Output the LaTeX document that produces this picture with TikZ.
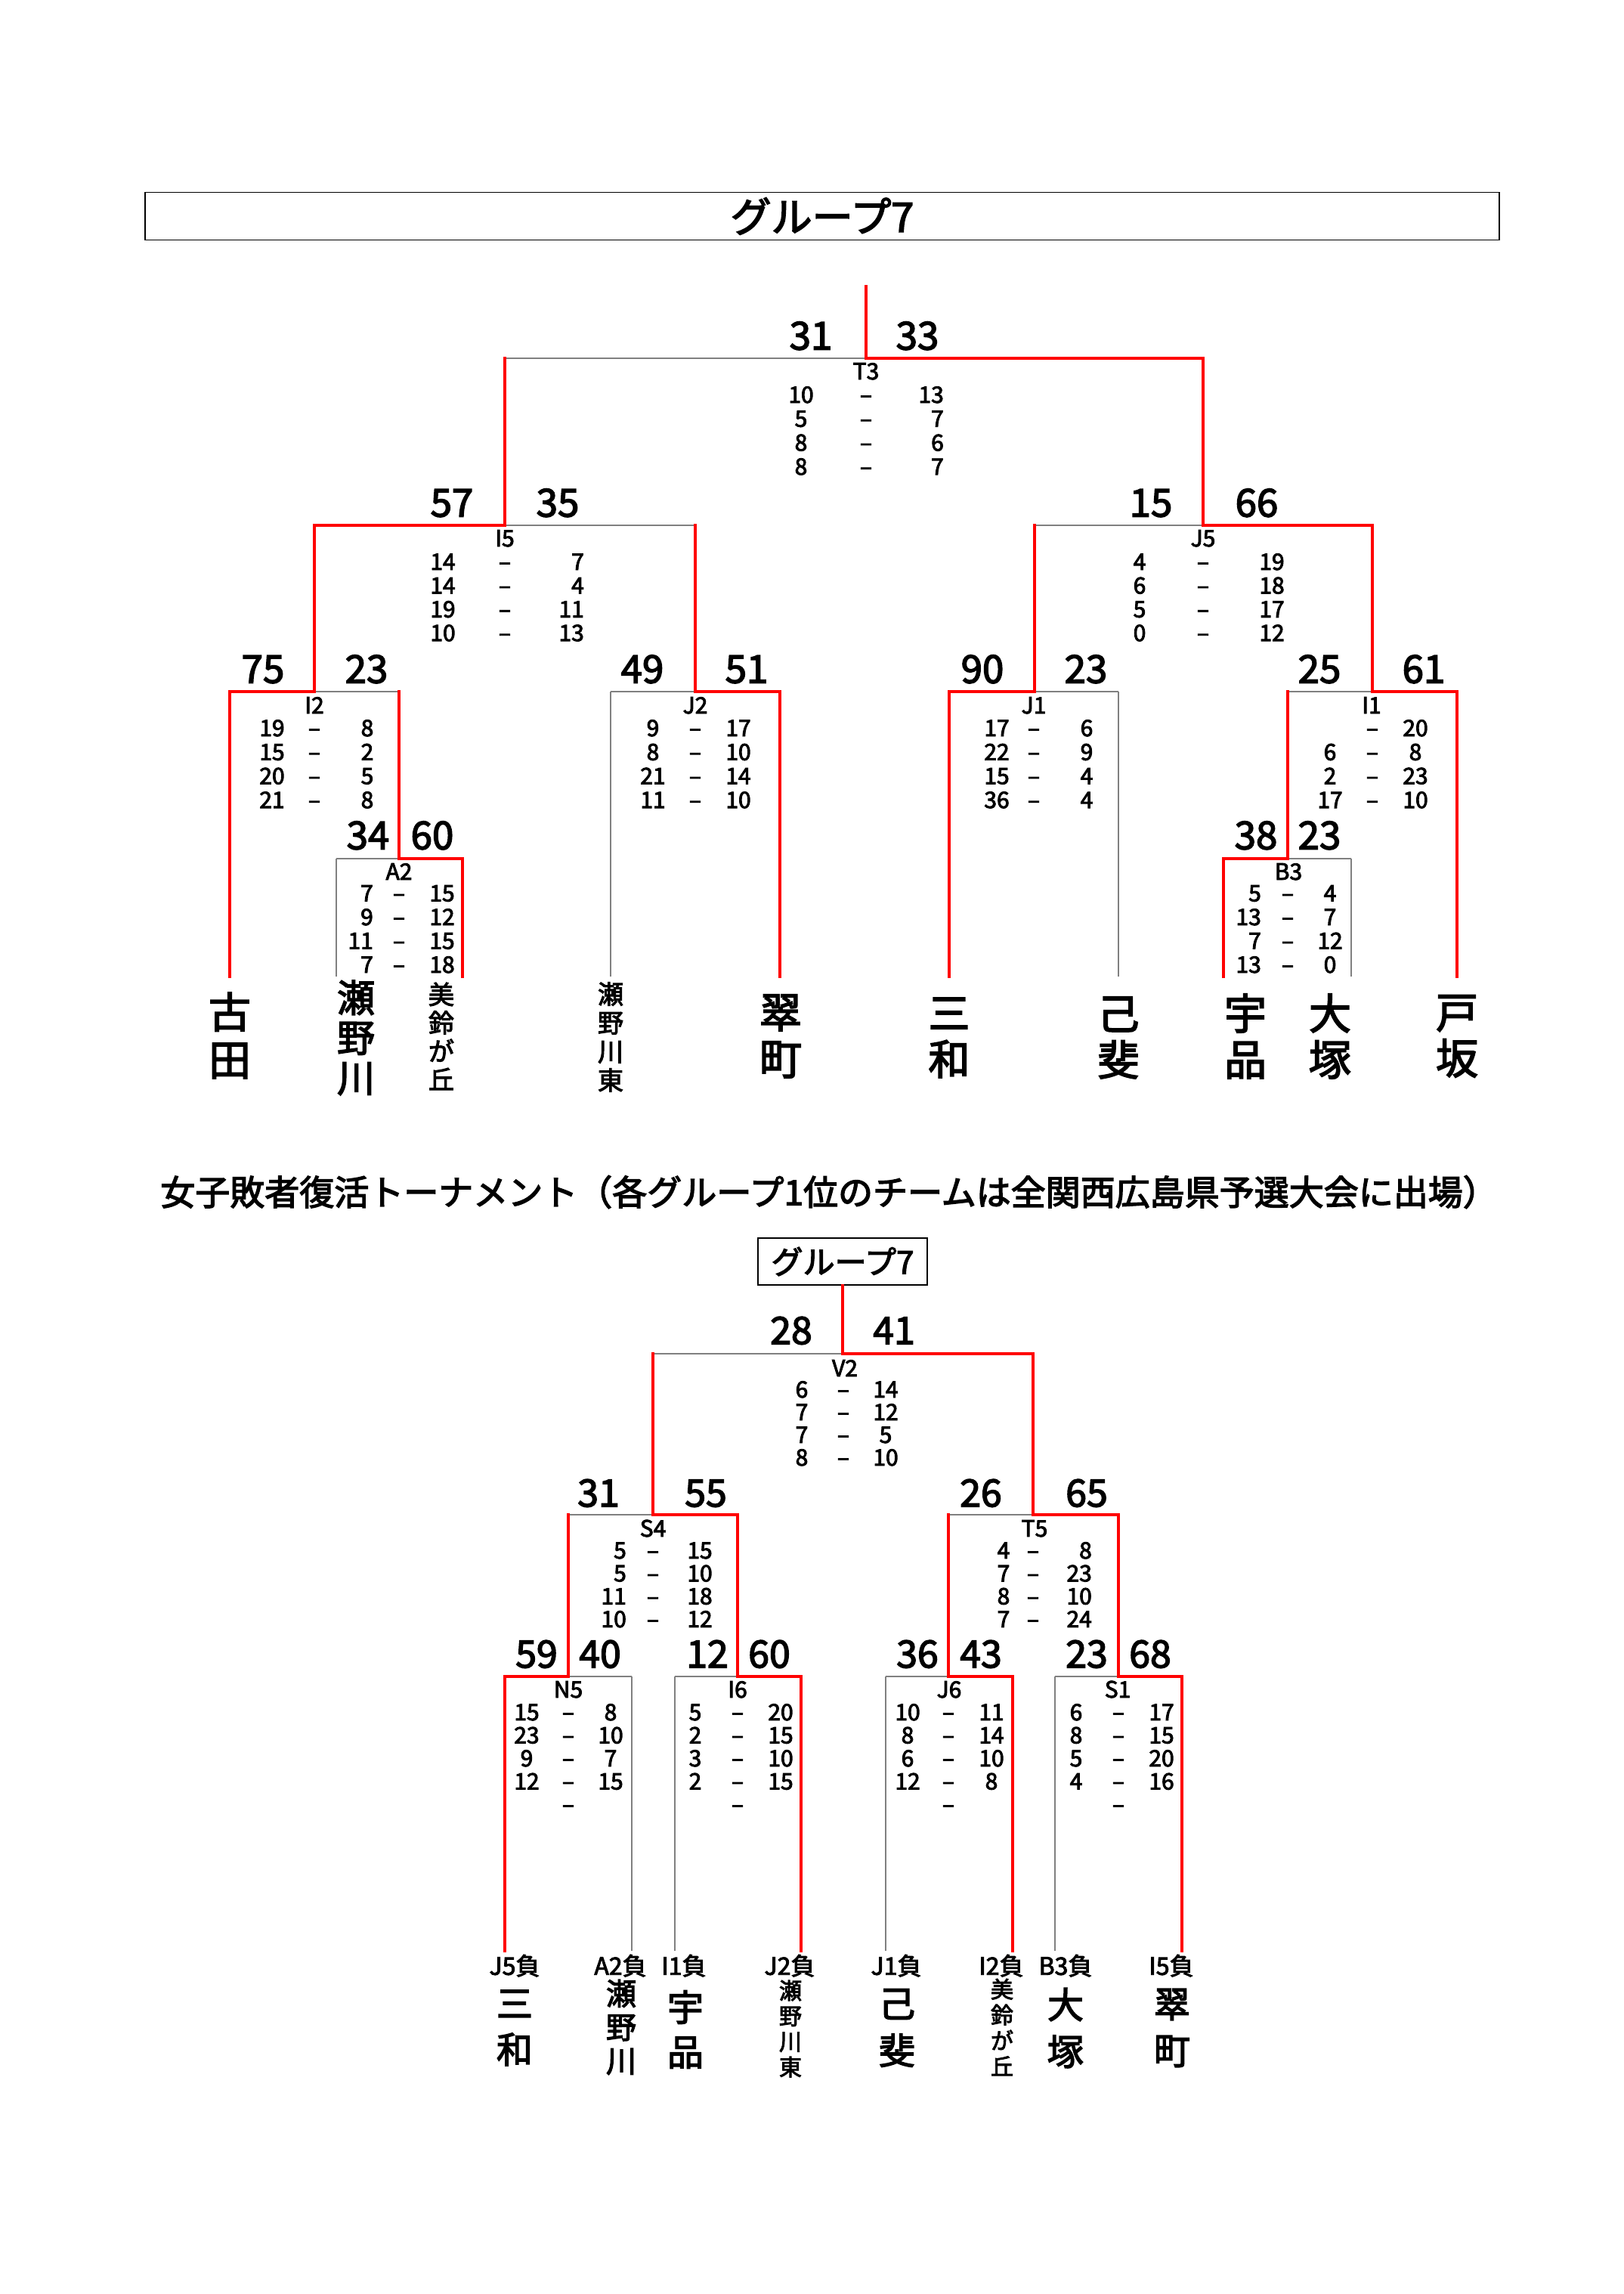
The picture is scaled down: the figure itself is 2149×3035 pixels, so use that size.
\documentclass[tikz,border=0pt]{standalone}
\usepackage{fontspec}
\setmainfont{Noto Sans CJK JP}[FakeBold=3]
\newcommand\hseg[3]{\draw[#3] (#1) -- (#1 -| #2);}
\newcommand\vseg[3]{\draw[#3] (#1 -| #2) -- (#2);}
\newcommand\mrows[9]{\foreach \sL/\sR [count=\ii] in {#9}{%
  \node[sm, anchor=#5] (#1l\ii) at (#4,{#2+(\ii-1)*#3}) {\sL};
  \node[sm] (#1d\ii) at (#6,{#2+(\ii-1)*#3}) {–};
  \node[sm, anchor=#8] (#1r\ii) at (#7,{#2+(\ii-1)*#3}) {\sR};}}
\begin{document}
\begin{tikzpicture}[x=1pt,y=-1pt,
  gl/.style={draw=gray, line width=1.3pt},
  rl/.style={draw=red, line width=4pt, line cap=rect},
  big/.style={inner sep=0pt, text height=37pt, text depth=0pt, font=\fontsize{51}{51}\selectfont},
  bigb/.style={inner sep=0pt, text height=36.5pt, text depth=0pt, font=\fontsize{50}{50}\selectfont},
  sm/.style={inner sep=0pt, text height=22pt, text depth=0pt, font=\fontsize{30}{30}\selectfont},
  lose/.style={inner sep=0pt, text height=23.4pt, text depth=0pt, font=\fontsize{32}{32}\selectfont},
  nm/.style={inner sep=0pt, align=center},
]
\useasboundingbox[fill=white] (0,0) rectangle (2149,3035);

% ---------- titles ----------
\node[draw, line width=1.5pt, minimum width=1792pt, minimum height=63pt, inner sep=0pt,
      font=\fontsize{54}{54}\selectfont] (title1) at (1088,286) {グループ7};
\node[inner sep=0pt, font=\fontsize{46}{46}\selectfont] (title2) at (1097,1577)
  {女子敗者復活トーナメント（各グループ1位のチームは全関西広島県予選大会に出場）};
\node[draw, line width=1.5pt, minimum width=224pt, minimum height=62pt, inner sep=0pt,
      font=\fontsize{42}{42}\selectfont] (g2) at (1115,1669) {グループ7};

% ---------- top bracket coordinates ----------
\coordinate (r0) at (1146,379);
\coordinate (T3) at (1146,474);
\coordinate (I5) at (668,695);
\coordinate (J5) at (1592,695);
\coordinate (I2) at (416,915);
\coordinate (J2) at (920,915);
\coordinate (J1) at (1369,915);
\coordinate (I1) at (1816,915);
\coordinate (A2) at (528,1136);
\coordinate (B3) at (1704,1136);
\coordinate (t1) at (304,1292);
\coordinate (t2) at (445,1292);
\coordinate (t3) at (612,1292);
\coordinate (t4) at (808,1292);
\coordinate (t5) at (1032,1292);
\coordinate (t6) at (1256,1292);
\coordinate (t7) at (1480,1292);
\coordinate (t8) at (1619,1292);
\coordinate (t9) at (1788,1292);
\coordinate (t10) at (1928,1292);

% ---------- bottom bracket coordinates ----------
\coordinate (V2) at (1115,1791);
\coordinate (S4) at (864,2004);
\coordinate (T5) at (1367,2004);
\coordinate (N5) at (752,2218);
\coordinate (I6) at (976,2218);
\coordinate (J6) at (1255,2218);
\coordinate (S1) at (1480,2218);
\coordinate (b1) at (668,2581);
\coordinate (b2) at (836,2581);
\coordinate (b3) at (893,2581);
\coordinate (b4) at (1060,2581);
\coordinate (b5) at (1172,2581);
\coordinate (b6) at (1340,2581);
\coordinate (b7) at (1396,2581);
\coordinate (b8) at (1564,2581);

% ---------- gray (lost) lines ----------
\hseg{T3}{I5}{gl}
\hseg{I5}{J2}{gl}
\hseg{J5}{J1}{gl}
\hseg{I2}{A2}{gl}
\hseg{A2}{t2}{gl} \vseg{A2}{t2}{gl}
\hseg{J2}{t4}{gl} \vseg{J2}{t4}{gl}
\hseg{J1}{t7}{gl} \vseg{J1}{t7}{gl}
\hseg{I1}{B3}{gl}
\hseg{B3}{t9}{gl} \vseg{B3}{t9}{gl}
\hseg{V2}{S4}{gl}
\hseg{S4}{N5}{gl}
\hseg{T5}{J6}{gl}
\hseg{N5}{b2}{gl} \vseg{N5}{b2}{gl}
\hseg{I6}{b3}{gl} \vseg{I6}{b3}{gl}
\hseg{J6}{b5}{gl} \vseg{J6}{b5}{gl}
\hseg{S1}{b7}{gl} \vseg{S1}{b7}{gl}

% ---------- red (won) lines ----------
\draw[rl] (r0) -- (T3);
\hseg{T3}{J5}{rl} \vseg{T3}{I5}{rl} \vseg{T3}{J5}{rl}
\hseg{I5}{I2}{rl} \vseg{I5}{I2}{rl} \vseg{I5}{J2}{rl}
\hseg{J5}{I1}{rl} \vseg{J5}{J1}{rl} \vseg{J5}{I1}{rl}
\hseg{I2}{t1}{rl} \vseg{I2}{t1}{rl} \vseg{I2}{A2}{rl}
\hseg{A2}{t3}{rl} \vseg{A2}{t3}{rl}
\hseg{J2}{t5}{rl} \vseg{J2}{t5}{rl}
\hseg{J1}{t6}{rl} \vseg{J1}{t6}{rl}
\hseg{I1}{t10}{rl} \vseg{I1}{B3}{rl} \vseg{I1}{t10}{rl}
\hseg{B3}{t8}{rl} \vseg{B3}{t8}{rl}
\draw[rl] (g2.south) -- (V2);
\hseg{V2}{T5}{rl} \vseg{V2}{S4}{rl} \vseg{V2}{T5}{rl}
\hseg{S4}{I6}{rl} \vseg{S4}{N5}{rl} \vseg{S4}{I6}{rl}
\hseg{T5}{S1}{rl} \vseg{T5}{J6}{rl} \vseg{T5}{S1}{rl}
\hseg{N5}{b1}{rl} \vseg{N5}{b1}{rl}
\hseg{I6}{b4}{rl} \vseg{I6}{b4}{rl}
\hseg{J6}{b6}{rl} \vseg{J6}{b6}{rl}
\hseg{S1}{b8}{rl} \vseg{S1}{b8}{rl}

% ---------- top: match totals ----------
\node[big] (T3a) at (1073,444) {31};  \node[big] (T3b) at (1214,444) {33};
\node[big] (I5a) at (598,665) {57};   \node[big] (I5b) at (738,665) {35};
\node[big] (J5a) at (1523,665) {15};  \node[big] (J5b) at (1663,665) {66};
\node[big] (I2a) at (348,885) {75};   \node[big] (I2b) at (485,885) {23};
\node[big] (J2a) at (850,885) {49};   \node[big] (J2b) at (988,885) {51};
\node[big] (J1a) at (1300,885) {90};  \node[big] (J1b) at (1437,885) {23};
\node[big] (I1a) at (1746,885) {25};  \node[big] (I1b) at (1884,885) {61};
\node[big] (A2a) at (487,1105) {34};  \node[big] (A2b) at (572,1105) {60};
\node[big] (B3a) at (1662,1105) {38}; \node[big] (B3b) at (1746,1105) {23};

% ---------- top: match ids ----------
\node[sm] (T3n) at (1146,491) {T3};
\node[sm] (I5n) at (668,712) {I5};
\node[sm] (J5n) at (1592,712) {J5};
\node[sm] (I2n) at (416,933) {I2};
\node[sm] (J2n) at (920,933) {J2};
\node[sm] (J1n) at (1368,933) {J1};
\node[sm] (I1n) at (1815,933) {I1};
\node[sm] (A2n) at (528,1153) {A2};
\node[sm] (B3n) at (1705,1153) {B3};

% ---------- top: set scores ----------
\mrows{T3}{522}{31.7}{1060}{center}{1146}{1249}{east}{10/13,5/7,8/6,8/7}
\mrows{I5}{743}{31.4}{586}{center}{668}{773}{east}{14/7,14/4,19/11,10/13}
\mrows{J5}{743}{31.4}{1508}{center}{1592}{1683}{center}{4/19,6/18,5/17,0/12}
\mrows{I2}{963}{31.7}{360}{center}{416}{486}{center}{19/8,15/2,20/5,21/8}
\mrows{J2}{963}{31.7}{864}{center}{920}{977}{center}{9/17,8/10,21/14,11/10}
\mrows{J1}{963}{31.7}{1319}{center}{1368}{1438}{center}{17/6,22/9,15/4,36/4}
\mrows{I1}{963}{31.7}{1760}{center}{1816}{1873}{center}{/20,6/8,2/23,17/10}
\mrows{A2}{1181.5}{31.5}{494}{east}{528}{585}{center}{7/15,9/12,11/15,7/18}
\mrows{B3}{1181.5}{31.5}{1669}{east}{1704}{1760}{center}{5/4,13/7,7/12,13/0}

% ---------- top: teams ----------
\node[nm, font=\fontsize{56}{63}\selectfont] (nT1) at (304,1370) {古\\田};
\node[nm, font=\fontsize{50}{53}\selectfont] (nT2) at (471,1373) {瀬\\野\\川};
\node[nm, font=\fontsize{34}{37.5}\selectfont] (nT3) at (584,1371) {美\\鈴\\が\\丘};
\node[nm, font=\fontsize{34}{38}\selectfont] (nT4) at (808,1372) {瀬\\野\\川\\東};
\node[nm, font=\fontsize{56}{62}\selectfont] (nT5) at (1033,1371) {翠\\町};
\node[nm, font=\fontsize{55}{61}\selectfont] (nT6) at (1256,1373) {三\\和};
\node[nm, font=\fontsize{55}{61}\selectfont] (nT7) at (1480,1373) {己\\斐};
\node[nm, font=\fontsize{56}{61}\selectfont] (nT8) at (1648,1371) {宇\\品};
\node[nm, font=\fontsize{56}{61}\selectfont] (nT9) at (1760,1371) {大\\塚};
\node[nm, font=\fontsize{56}{61}\selectfont] (nT10) at (1928,1371) {戸\\坂};

% ---------- bottom: match totals ----------
\node[bigb] (V2a) at (1047,1760) {28};  \node[bigb] (V2b) at (1183,1760) {41};
\node[bigb] (S4a) at (792,1975) {31};   \node[bigb] (S4b) at (934,1975) {55};
\node[bigb] (T5a) at (1298,1975) {26};  \node[bigb] (T5b) at (1438,1975) {65};
\node[bigb] (N5a) at (710,2188) {59};   \node[bigb] (N5b) at (794,2188) {40};
\node[bigb] (I6a) at (936,2188) {12};   \node[bigb] (I6b) at (1018,2188) {60};
\node[bigb] (J6a) at (1214,2188) {36};  \node[bigb] (J6b) at (1298,2188) {43};
\node[bigb] (S1a) at (1438,2188) {23};  \node[bigb] (S1b) at (1522,2188) {68};

% ---------- bottom: match ids ----------
\node[sm] (V2n) at (1118,1810) {V2};
\node[sm] (S4n) at (864,2022) {S4};
\node[sm] (T5n) at (1369,2022) {T5};
\node[sm] (N5n) at (752,2235) {N5};
\node[sm] (I6n) at (976,2235) {I6};
\node[sm] (J6n) at (1256,2235) {J6};
\node[sm] (S1n) at (1479,2235) {S1};

% ---------- bottom: set scores ----------
\mrows{V2}{1838}{30}{1061}{center}{1116}{1172}{center}{6/14,7/12,7/5,8/10}
\mrows{S4}{2051}{30.3}{829}{east}{864}{926}{center}{5/15,5/10,11/18,10/12}
\mrows{T5}{2051}{30.3}{1328}{center}{1367}{1445}{east}{4/8,7/23,8/10,7/24}
\mrows{N5}{2265}{30.5}{697}{center}{752}{808}{center}{15/8,23/10,9/7,12/15}
\mrows{I6}{2265}{30.5}{920}{center}{976}{1033}{center}{5/20,2/15,3/10,2/15}
\mrows{J6}{2265}{30.5}{1201}{center}{1255}{1312}{center}{10/11,8/14,6/10,12/8}
\mrows{S1}{2265}{30.5}{1424}{center}{1480}{1537}{center}{6/17,8/15,5/20,4/16}
\node[sm] (N5d5) at (752,2387) {–};
\node[sm] (I6d5) at (976,2387) {–};
\node[sm] (J6d5) at (1255,2387) {–};
\node[sm] (S1d5) at (1480,2387) {–};

% ---------- bottom: source labels ----------
\node[lose] (L1) at (681,2601) {J5負};
\node[lose] (L2) at (821,2601) {A2負};
\node[lose] (L3) at (905,2601) {I1負};
\node[lose] (L4) at (1045,2601) {J2負};
\node[lose] (L5) at (1186,2601) {J1負};
\node[lose] (L6) at (1325,2601) {I2負};
\node[lose] (L7) at (1410,2601) {B3負};
\node[lose] (L8) at (1550,2601) {I5負};

% ---------- bottom: teams ----------
\node[nm, font=\fontsize{48}{61}\selectfont] (nB1) at (681,2683) {三\\和};
\node[nm, font=\fontsize{40}{44.5}\selectfont] (nB2) at (822,2682) {瀬\\野\\川};
\node[nm, font=\fontsize{48}{59}\selectfont] (nB3) at (907,2685) {宇\\品};
\node[nm, font=\fontsize{30}{33.7}\selectfont] (nB4) at (1046,2684) {瀬\\野\\川\\東};
\node[nm, font=\fontsize{48}{62}\selectfont] (nB5) at (1187,2683) {己\\斐};
\node[nm, font=\fontsize{30}{34}\selectfont] (nB6) at (1326,2682) {美\\鈴\\が\\丘};
\node[nm, font=\fontsize{48}{62}\selectfont] (nB7) at (1410,2683) {大\\塚};
\node[nm, font=\fontsize{48}{62}\selectfont] (nB8) at (1551,2683) {翠\\町};
\end{tikzpicture}
\end{document}
